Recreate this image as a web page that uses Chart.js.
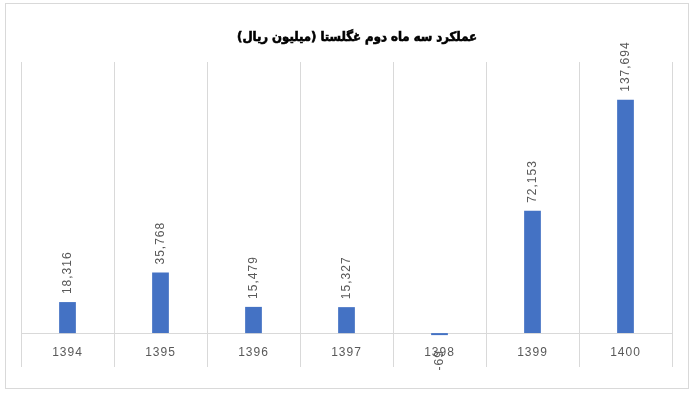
<!DOCTYPE html>
<html>
<head>
<meta charset="utf-8">
<script src="https://cdn.jsdelivr.net/npm/chart.js@4"></script>
<style>
  body { margin: 0; background: #fff; }
  #wrap { position: relative; width: 700px; height: 400px; }
  #frame { position: absolute; left: 5px; top: 3px; width: 682px; height: 384px; border: 1px solid #d9d9d9; }
  #myChart { position: absolute; left: 0; top: 0; }
</style>
</head>
<body>
<div id="wrap">
  <div id="frame"></div>
  <canvas id="myChart" width="700" height="400"></canvas>
</div>
<script>
var years = ['1394', '1395', '1396', '1397', '1398', '1399', '1400'];
var profit = [18316, 35768, 15479, 15327, -69, 72153, 137694];
var chartTitle = 'عملکرد سه ماه دوم غگلستا (میلیون ریال)';

// wider letter spacing like the original, and the title on top
const spacing = {
  id: 'spacing',
  beforeDraw(chart) {
    chart.ctx.letterSpacing = '1px';
  },
  afterDraw(chart) {
    const ctx = chart.ctx;
    ctx.save();
    ctx.letterSpacing = '0px';
    ctx.font = 'bold 13px "DejaVu Sans Condensed", "DejaVu Sans", sans-serif';
    ctx.fillStyle = '#000';
    ctx.strokeStyle = '#000';
    ctx.lineWidth = 0.6;
    ctx.textAlign = 'center';
    ctx.textBaseline = 'middle';
    ctx.fillText(chartTitle, 357, 38);
    ctx.strokeText(chartTitle, 357, 38);
    ctx.restore();
  }
};

// value labels written sideways above (or below) each bar
const barLabels = {
  id: 'barLabels',
  afterDatasetsDraw(chart) {
    const ctx = chart.ctx;
    const meta = chart.getDatasetMeta(0);
    ctx.save();
    ctx.letterSpacing = '1px';
    ctx.font = '12px "Liberation Sans", Arial, sans-serif';
    ctx.fillStyle = '#595959';
    ctx.textBaseline = 'middle';
    meta.data.forEach(function(bar, i) {
      const v = profit[i];
      const txt = v.toLocaleString('en-US');
      ctx.save();
      if (v >= 0) {
        ctx.translate(bar.x, bar.y - 8);
        ctx.rotate(-Math.PI / 2);
        ctx.textAlign = 'left';
      } else {
        ctx.translate(bar.x, bar.y + 15);
        ctx.rotate(-Math.PI / 2);
        ctx.textAlign = 'right';
      }
      ctx.fillText(txt, 0, 0);
      ctx.restore();
    });
    ctx.restore();
  }
};

const ctx = document.getElementById('myChart').getContext('2d');
new Chart(ctx, {
  type: 'bar',
  data: {
    labels: years,
    datasets: [{
      label: 'profit',
      data: profit,
      backgroundColor: '#4472C4',
      barPercentage: 0.18,
      categoryPercentage: 1,
      minBarLength: 2
    }]
  },
  options: {
    responsive: false,
    animation: false,
    layout: {
      padding: { left: 21, right: 28, top: 62, bottom: 33 }
    },
    plugins: {
      legend: { display: false },
      tooltip: { enabled: false },
      title: { display: false }
    },
    scales: {
      x: {
        position: { y: 0 },
        grid: {
          offset: true,
          color: '#d9d9d9',
          drawTicks: false
        },
        border: { color: '#d9d9d9' },
        ticks: {
          padding: 12,
          color: '#595959',
          font: { family: '"Liberation Sans", Arial, sans-serif', size: 12 }
        }
      },
      y: {
        display: false,
        min: -20000,
        max: 160000
      }
    }
  },
  plugins: [spacing, barLabels]
});
</script>
</body>
</html>
